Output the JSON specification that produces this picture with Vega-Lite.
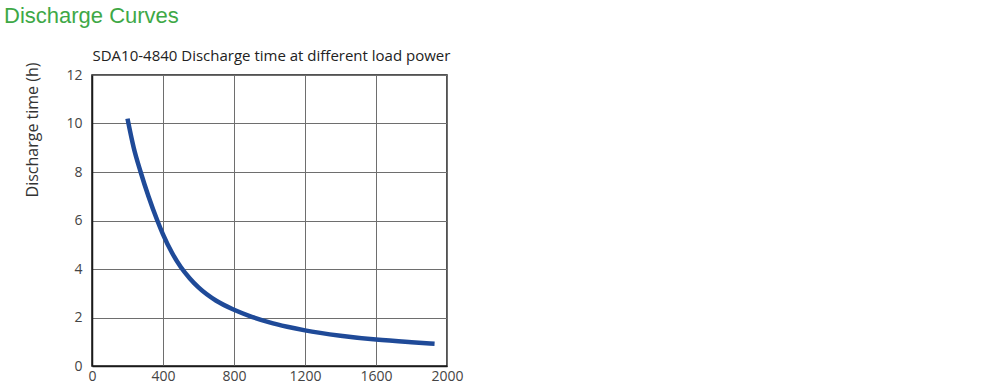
{
  "$schema": "https://vega.github.io/schema/vega-lite/v6.json",
  "width": 355,
  "height": 291,
  "autosize": "none",
  "padding": {"left": 92, "top": 75, "right": 553, "bottom": 25},
  "background": "white",
  "title": {
    "text": "Discharge Curves",
    "anchor": "start",
    "frame": "group",
    "orient": "top",
    "dx": -88,
    "dy": -10,
    "font": "Liberation Sans",
    "fontSize": 22,
    "fontWeight": "normal",
    "color": "#3ea846",
    "offset": 10
  },
  "config": {
    "view": {"stroke": "#1a1a1a", "strokeWidth": 1.5},
    "axis": {
      "labelFont": "Open Sans",
      "labelFontSize": 13,
      "labelColor": "#444444",
      "gridColor": "#6e6e6e",
      "gridWidth": 1,
      "gridOpacity": 1,
      "ticks": false,
      "domainColor": "#1a1a1a",
      "domainWidth": 1.5,
      "labelFlush": false,
      "labelOverlap": false
    }
  },
  "data": {
    "values": [
      {"power": 200, "time": 10.2},
      {"power": 235, "time": 9.0},
      {"power": 274, "time": 8.0},
      {"power": 318, "time": 7.0},
      {"power": 368, "time": 6.0},
      {"power": 400, "time": 5.43},
      {"power": 450, "time": 4.68},
      {"power": 500, "time": 4.08},
      {"power": 550, "time": 3.62},
      {"power": 600, "time": 3.24},
      {"power": 700, "time": 2.69},
      {"power": 800, "time": 2.32},
      {"power": 900, "time": 2.03},
      {"power": 1000, "time": 1.8},
      {"power": 1100, "time": 1.62},
      {"power": 1200, "time": 1.47},
      {"power": 1400, "time": 1.25},
      {"power": 1600, "time": 1.09},
      {"power": 1800, "time": 0.98},
      {"power": 1930, "time": 0.92}
    ]
  },
  "mark": {
    "type": "line",
    "interpolate": "monotone",
    "color": "#1f4a98",
    "strokeWidth": 4.5,
    "strokeCap": "butt"
  },
  "encoding": {
    "x": {
      "field": "power",
      "type": "quantitative",
      "scale": {"domain": [0, 2000], "nice": false},
      "axis": {
        "values": [0, 400, 800, 1200, 1600, 2000],
        "format": "d",
        "labelPadding": 3,
        "labelFontSize": 14,
        "title": "SDA10-4840 Discharge time at different load power",
        "titleFont": "Open Sans",
        "titleFontSize": 15,
        "titleFontWeight": "normal",
        "titleColor": "#222222",
        "titleAnchor": "start",
        "titleAlign": "left",
        "titleBaseline": "alphabetic",
        "titleX": 0,
        "titleY": -306
      }
    },
    "y": {
      "field": "time",
      "type": "quantitative",
      "scale": {"domain": [0, 12], "nice": false},
      "axis": {
        "values": [0, 2, 4, 6, 8, 10, 12],
        "format": "d",
        "labelPadding": 10,
        "labelFontSize": 14,
        "title": "Discharge time (h)",
        "titleFont": "Open Sans",
        "titleFontSize": 16,
        "titleFontWeight": "normal",
        "titleColor": "#333333",
        "titleAngle": -90,
        "titleAlign": "right",
        "titleBaseline": "middle",
        "titleX": -60,
        "titleY": -13
      }
    }
  }
}
